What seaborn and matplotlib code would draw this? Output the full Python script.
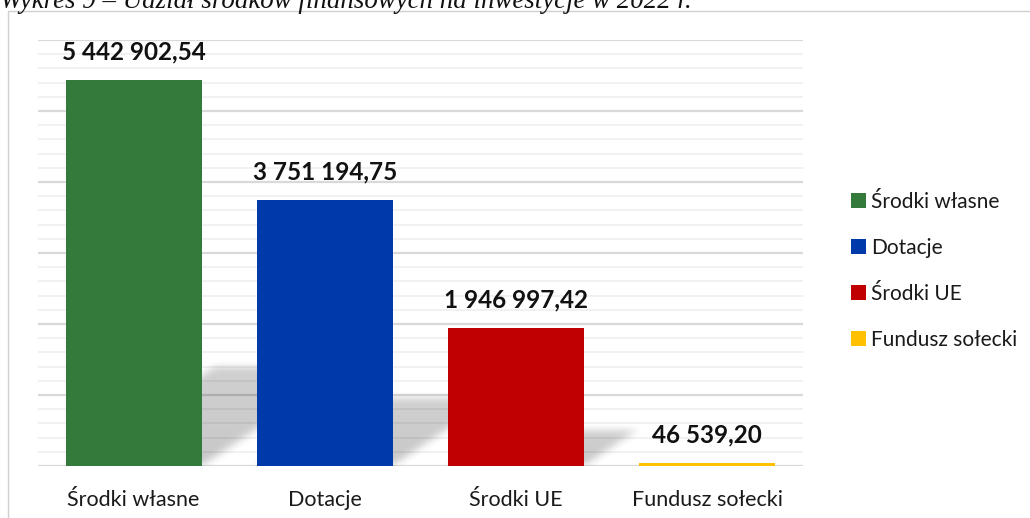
import matplotlib
matplotlib.use("Agg")
import numpy as np
import matplotlib.pyplot as plt
import seaborn as sns
from matplotlib.patches import Patch, Rectangle
from matplotlib.ticker import MultipleLocator

# Data
categories = ["Środki własne", "Dotacje", "Środki UE", "Fundusz sołecki"]
values = [5442902.54, 3751194.75, 1946997.42, 46539.20]
colors = ["#347A3A", "#0039A9", "#C00000", "#FFC000"]
title = "Wykres 9 – Udział środków finansowych na inwestycje w 2022 r."

sns.set_theme(style="white")
plt.rcParams["font.family"] = ["Lato", "DejaVu Sans"]

fig = plt.figure(figsize=(10.3, 5.18), dpi=100)
ax = fig.add_axes([0.0369, 0.1004, 0.7427, 0.8224])

bar_w = 0.71
sns.barplot(x=categories, y=values, hue=categories, palette=colors,
            width=bar_w, dodge=False, saturation=1, legend=False,
            ax=ax, zorder=3, linewidth=0)

ymax = 6000000
ax.yaxis.set_major_locator(MultipleLocator(1000000))
ax.yaxis.set_minor_locator(MultipleLocator(200000))
ax.grid(axis="y", which="major", color="#d9d9d9", lw=1.6, zorder=0)
ax.grid(axis="y", which="minor", color="#f0f0f0", lw=1.3, zorder=0)
ax.set_axisbelow(True)
ax.tick_params(axis="y", which="both", left=False, labelleft=False)
ax.tick_params(axis="x", bottom=False, labelsize=15.5, pad=11, colors="#1a1a1a")
for s in ax.spines.values():
    s.set_visible(False)
ax.set_xlabel("")
ax.set_ylabel("")

# soft perspective shadows: skewed parallelogram mask, blurred
nx, ny = 764, 426
gx = np.linspace(-0.5, 3.5, nx)
gy = np.linspace(0, ymax, ny)
X, Y = np.meshgrid(gx, gy)
mask = np.zeros_like(X)
half = bar_w / 2
px_per_x = nx / 4.0
px_per_y = ny / ymax
for i, v in enumerate(values):
    sh = v * 0.255
    dx = 1.5 * sh * px_per_y / px_per_x   # skew: top edge shifted right
    t = np.clip(Y / sh, 0, None)
    inside = (Y <= sh) & (X >= i - half + dx * t) & (X <= i + half + dx * t)
    mask = np.maximum(mask, inside * (1 - 0.15 * t))


def box_blur(a, r, axis):
    k = np.ones(2 * r + 1) / (2 * r + 1)
    return np.apply_along_axis(lambda m: np.convolve(m, k, mode="same"), axis, a)


for _ in range(3):
    mask = box_blur(mask, 3, 0)
    mask = box_blur(mask, 4, 1)
rgba = np.zeros((ny, nx, 4))
rgba[..., 3] = mask * 0.22
ax.imshow(rgba, extent=(-0.5, 3.5, 0, ymax), origin="lower",
          aspect="auto", zorder=1, interpolation="bilinear")
ax.set_xlim(-0.5, 3.5)
ax.set_ylim(0, ymax)

# value labels
for i, v in enumerate(values):
    txt = f"{v:,.2f}".replace(",", " ").replace(".", ",")
    ax.text(i, v + 230000, txt, ha="center", va="bottom",
            fontsize=17.5, fontweight="bold", color="#111111", zorder=4)

# legend
handles = [Patch(facecolor=c, edgecolor="none") for c in colors]
ax.legend(handles, categories, loc="center left", bbox_to_anchor=(1.052, 0.458),
          frameon=False, fontsize=15, handlelength=0.72, handleheight=0.72,
          handletextpad=0.25, labelspacing=1.25, borderaxespad=0,
          labelcolor="#1a1a1a")

# chart border and cut-off caption
fig.patches.append(Rectangle((8 / 1030, -0.05), 1.1, 1 - 11 / 518 + 0.05,
                             transform=fig.transFigure, fill=False,
                             edgecolor="#d0d0d0", lw=1.0))
fig.text(0.0, 1 - 8 / 518, title, ha="left", va="baseline",
         fontsize=19.4, style="italic", family="Liberation Serif", color="#111111")

fig.savefig("out.png", dpi=100)
